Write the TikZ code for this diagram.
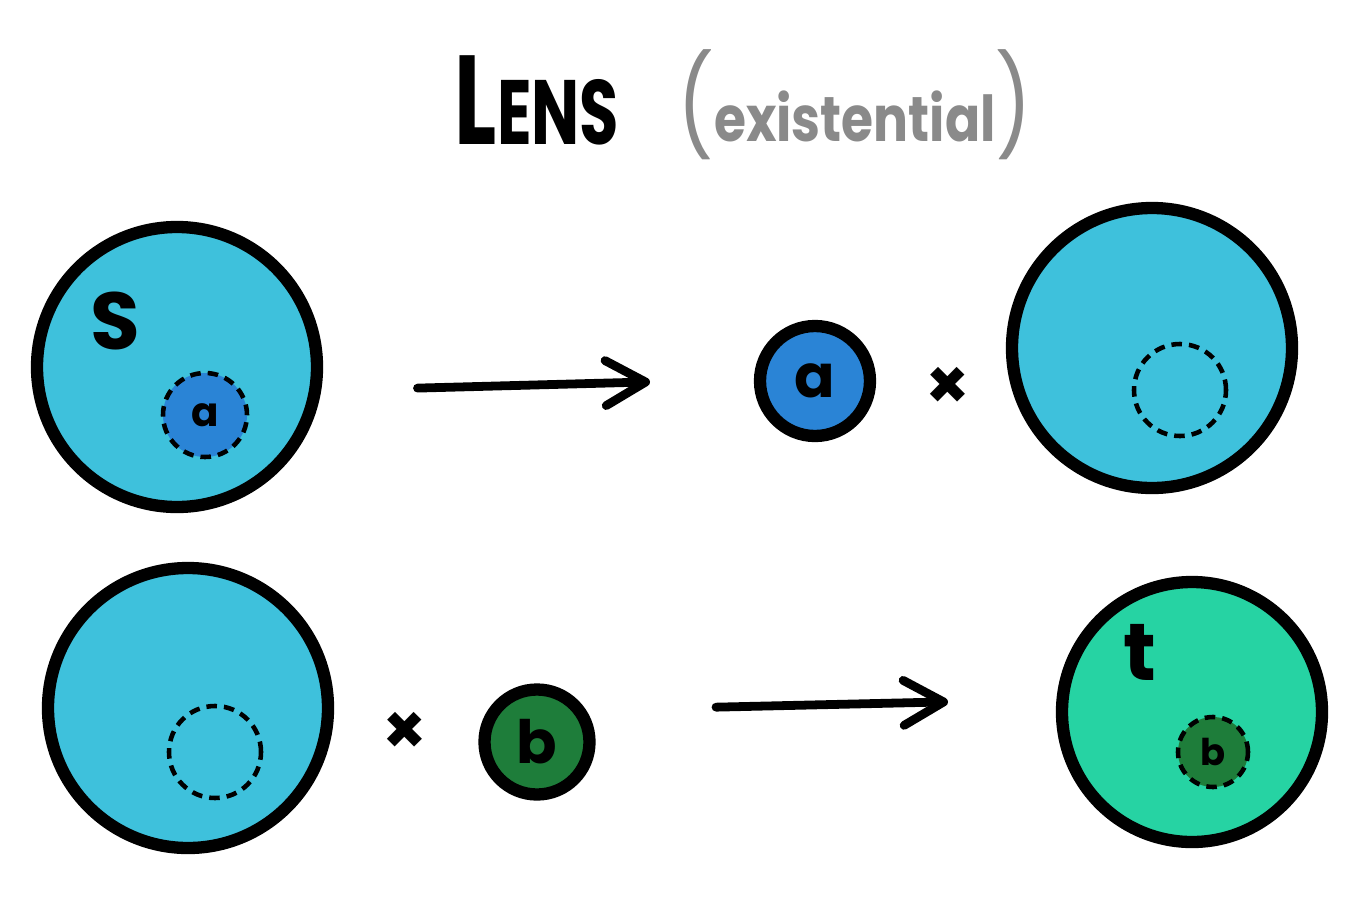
\documentclass[tikz,border=0pt]{standalone}
\usepackage{fontspec}
\setmainfont{Poppins}
\usepackage{tikz}
\usepackage{tikz-network}
\usepackage{xcolor}
\usetikzlibrary{arrows.meta}

\definecolor{setblue}{HTML}{3EC1DC}
\definecolor{focusblue}{HTML}{2A84D6}
\definecolor{setgreen}{HTML}{26D3A3}
\definecolor{focusgreen}{HTML}{1E7D3A}
\definecolor{notegray}{HTML}{8A8A8A}

\newcommand{\bigL}{\fontsize{72}{72}\selectfont\bfseries}
\newcommand{\smallcap}{\fontsize{52}{52}\selectfont\bfseries}
\newcommand{\notefont}{\fontsize{36}{36}\selectfont\bfseries}
\newcommand{\parenfont}{\fontsize{56}{56}\selectfont}
\newcommand{\setlab}{\fontsize{46}{46}\selectfont\bfseries}
\newcommand{\biglab}{\fontsize{34}{34}\selectfont\bfseries}
\newcommand{\minilab}{\fontsize{23}{23}\selectfont\bfseries}
\newcommand{\crossfont}{\fontsize{40}{40}\selectfont\bfseries}

\tikzset{
  dashring/.style={dash pattern=on 6pt off 4pt},
  lensarrow/.style={-{Straight Barb[length=8mm,width=9mm,round]},line cap=round}
}

\begin{document}
\begin{tikzpicture}
    \useasboundingbox (0,0) rectangle (27.3,-17.92);
    \SetEdgeStyle[LineWidth=5pt,Color=black]
    \node (lens) at (10.74,-2.0) {\scalebox{0.7}[1]{{\bigL L}{\smallcap ENS}}};
    \node[text=notegray] (kind) at (17.1,-2.1) {\scalebox{0.82}[1]{{\parenfont(}{\notefont existential}{\parenfont)}}};
    \SetVertexStyle[LineColor=black,LineWidth=7pt]
    \Vertex[x=3.54,y=-7.34,size=5.6,color=setblue,NoLabel]{S}
    \Vertex[x=16.30,y=-7.62,size=2.2,color=focusblue,label=a,fontsize=\biglab]{A}
    \Vertex[x=23.04,y=-6.96,size=5.6,color=setblue,NoLabel]{C}
    \Vertex[x=3.76,y=-14.16,size=5.6,color=setblue,NoLabel]{C'}
    \Vertex[x=10.74,y=-14.84,size=2.1,color=focusgreen,label=b,fontsize=\biglab]{B}
    \Vertex[x=23.84,y=-14.24,size=5.2,color=setgreen,NoLabel]{T}
    \SetVertexStyle[LineColor=black,LineWidth=2.6pt]
    \Vertex[x=4.10,y=-8.30,size=1.68,color=focusblue,label=a,fontsize=\minilab,style={dashring}]{Sa}
    \Vertex[x=23.60,y=-7.80,size=1.84,color=setblue,NoLabel,style={dashring}]{Ca}
    \Vertex[x=4.30,y=-15.04,size=1.84,color=setblue,NoLabel,style={dashring}]{Cb}
    \Vertex[x=24.26,y=-15.04,size=1.4,color=focusgreen,label=b,fontsize=\fontsize{21}{21}\selectfont\bfseries,style={dashring}]{Tb}
    \Text[x=2.30,y=-6.42,fontsize=\setlab]{S}
    \Text[x=22.80,y=-13.04,fontsize=\setlab]{t}
    \Text[x=18.96,y=-7.76,fontsize=\crossfont]{×}
    \Text[x=8.10,y=-14.66,fontsize=\crossfont]{×}
    \Vertex[x=8.05,y=-7.77,Pseudo]{G0}
    \Vertex[x=13.30,y=-7.63,Pseudo]{G1}
    \Edge[lw=5,color=black,style={lensarrow}](G0)(G1)
    \Vertex[x=14.02,y=-14.15,Pseudo]{P0}
    \Vertex[x=19.26,y=-14.03,Pseudo]{P1}
    \Edge[lw=5,color=black,style={lensarrow}](P0)(P1)
  \end{tikzpicture}
\end{document}
